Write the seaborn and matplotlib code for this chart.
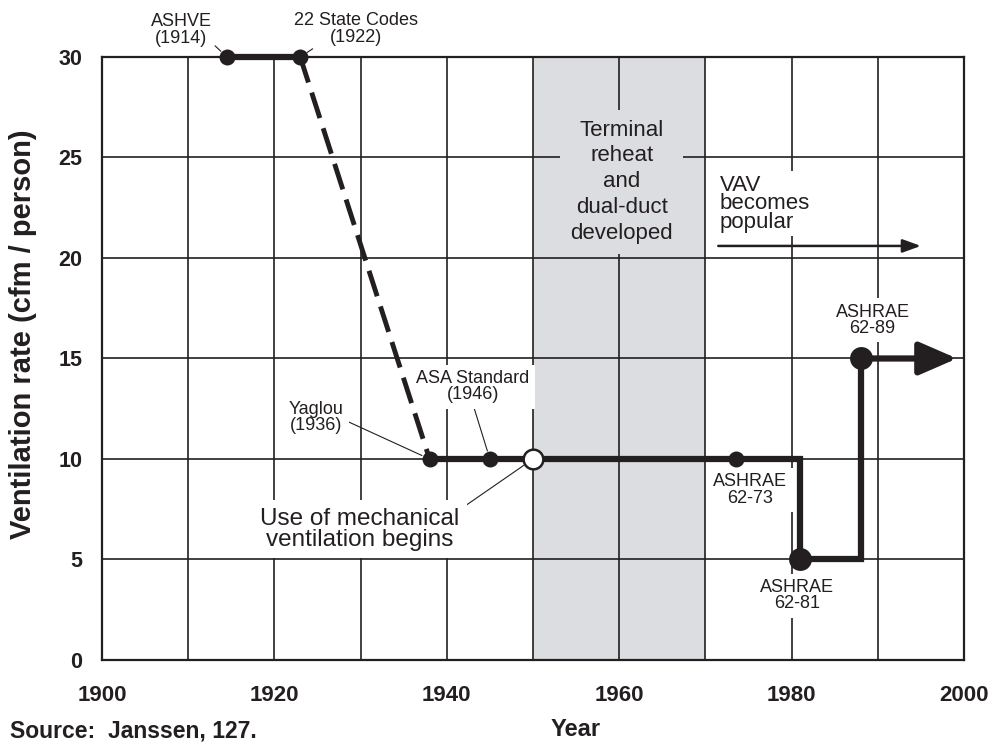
import matplotlib
matplotlib.use("Agg")
import matplotlib.pyplot as plt
import seaborn as sns

# --- values ---
early_years = [1914.5, 1923]          # ASHVE -> 22 State Codes
early_rates = [30, 30]
drop_years = [1923, 1938]             # dashed drop to Yaglou
drop_rates = [30, 10]
step_years = [1938, 1981, 1981, 1988, 1988]
step_rates = [10, 10, 5, 5, 15]
arrow_end_year = 1999.2               # 62-89 runs on past the chart

small_pt_years = [1914.5, 1923, 1938, 1945, 1973.5]
small_pt_rates = [30, 30, 10, 10, 10]
big_pt_years = [1981, 1988]
big_pt_rates = [5, 15]
mech_year, mech_rate = 1950, 10       # open circle

band_start, band_end = 1950, 1970     # terminal reheat / dual-duct
vav_start, vav_end, vav_rate = 1971.5, 1995, 20.6

x_ticks = list(range(1900, 2001, 10))
x_labels = [str(y) if y % 20 == 0 else "" for y in x_ticks]
y_ticks = list(range(0, 31, 5))

INK = "#231f20"
BAND = "#dcdde0"

sns.set_theme(style="white")
plt.rcParams["font.family"] = ["Liberation Sans", "DejaVu Sans"]

fig = plt.figure(figsize=(9.89, 7.45), dpi=100)
ax = fig.add_axes([0.1031, 0.1141, 0.8716, 0.8094])

ax.axvspan(band_start, band_end, color=BAND, lw=0, zorder=0)

# thick history line
line_kw = dict(color=INK, lw=4.5, estimator=None, sort=False, ax=ax,
               clip_on=False, zorder=4, solid_joinstyle="miter",
               solid_capstyle="butt")
sns.lineplot(x=early_years, y=early_rates, **line_kw)
sns.lineplot(x=step_years, y=step_rates, **line_kw)
sns.lineplot(x=drop_years, y=drop_rates, color=INK, lw=3.5, estimator=None,
             sort=False, ax=ax, linestyle=(0, (5.5, 2.2)), zorder=4,
             clip_on=False, dash_capstyle="butt")

ax.annotate("", xy=(arrow_end_year, big_pt_rates[1]),
            xytext=(big_pt_years[1], big_pt_rates[1]),
            arrowprops=dict(arrowstyle="-|>,head_length=1.15,head_width=0.5",
                            mutation_scale=20, lw=4.5, color=INK,
                            shrinkA=0, shrinkB=0), zorder=4)
ax.annotate("", xy=(vav_end, vav_rate), xytext=(vav_start, vav_rate),
            arrowprops=dict(arrowstyle="-|>,head_length=1.1,head_width=0.4",
                            mutation_scale=10, lw=1.8, color=INK,
                            shrinkA=0, shrinkB=0), zorder=4)

# markers
sns.scatterplot(x=small_pt_years, y=small_pt_rates, s=132, color=INK,
                edgecolor=INK, linewidth=0, ax=ax, zorder=5, clip_on=False)
sns.scatterplot(x=big_pt_years, y=big_pt_rates, s=272, color=INK,
                edgecolor=INK, linewidth=0, ax=ax, zorder=5, clip_on=False)
sns.scatterplot(x=[mech_year], y=[mech_rate], s=200, color="white",
                edgecolor=INK, linewidth=1.8, ax=ax, zorder=6)

# labels
white_box = dict(boxstyle="square,pad=0.3", fc="white", ec="none")
small = dict(fontsize=13, ha="center", va="center", linespacing=0.95,
             color=INK, zorder=3)


def leader(rel, shrink_b):
    return dict(arrowstyle="-", lw=0.8, color=INK, relpos=rel,
                shrinkA=0, shrinkB=shrink_b)


ax.annotate("ASHVE\n(1914)", xy=(early_years[0], 30), xytext=(1909.2, 31.35),
            arrowprops=leader((0.95, 0.2), 6), annotation_clip=False, **small)
ax.annotate("22 State Codes\n(1922)", xy=(early_years[1], 30),
            xytext=(1929.5, 31.4), arrowprops=leader((0.27, 0.2), 6),
            annotation_clip=False, **small)
ax.annotate("Yaglou\n(1936)", xy=(1938, 10), xytext=(1924.8, 12.05),
            arrowprops=leader((1.0, 0.45), 6), bbox=white_box, **small)
ax.annotate("ASA Standard\n(1946)", xy=(1945, 10), xytext=(1943, 13.6),
            arrowprops=leader((0.5, 0.0), 6), bbox=white_box, **small)
ax.annotate("Use of mechanical\nventilation begins", xy=(mech_year, mech_rate),
            xytext=(1929.9, 6.5), fontsize=17.5, ha="center", va="center",
            linespacing=0.95, color=INK, zorder=3, bbox=white_box,
            arrowprops=leader((1.0, 0.95), 8))
ax.text(1975.2, 8.45, "ASHRAE\n62-73", bbox=white_box, **small)
ax.text(1980.6, 3.2, "ASHRAE\n62-81", bbox=white_box, **small)
ax.text(1989.4, 16.9, "ASHRAE\n62-89", bbox=white_box, **small)

ax.text(1960.3, 23.8, "Terminal\nreheat\nand\ndual-duct\ndeveloped",
        fontsize=16, ha="center", va="center", linespacing=1.3, color=INK,
        zorder=3, bbox=dict(boxstyle="square,pad=0.45", fc=BAND, ec="none"))
ax.text(1971.7, 22.7, "VAV\nbecomes\npopular", fontsize=16, ha="left",
        va="center", linespacing=0.85, color=INK, zorder=3,
        bbox=dict(boxstyle="square,pad=0.15", fc="white", ec="none"))

# axes, grid, ticks
ax.set_xlim(1900, 2000)
ax.set_ylim(0, 30)
ax.set_xticks(x_ticks)
ax.set_xticklabels(x_labels, fontsize=16, fontweight="bold", color=INK)
ax.set_yticks(y_ticks)
ax.set_yticklabels([str(v) for v in y_ticks], fontsize=15.5,
                   fontweight="bold", color=INK)
ax.tick_params(axis="x", length=0, pad=18)
ax.tick_params(axis="y", length=0, pad=14)
ax.set_axisbelow(True)
ax.grid(True, color=INK, lw=1.2)
for sp in ax.spines.values():
    sp.set_visible(True)
    sp.set_color(INK)
    sp.set_linewidth(1.6)

ax.set_xlabel("Year", fontsize=17, fontweight="bold", color=INK)
ax.xaxis.set_label_coords(0.55, -0.097)
ax.set_ylabel("Ventilation rate (cfm / person)", fontsize=21,
              fontweight="bold", color=INK)
ax.yaxis.set_label_coords(-0.0755, 0.54)

fig.text(10 / 989, 1 - 731 / 745, "Source:  Janssen, 127.", fontsize=16.5,
         fontweight="bold", color=INK, va="center", ha="left")

fig.savefig("out.png", dpi=100)
